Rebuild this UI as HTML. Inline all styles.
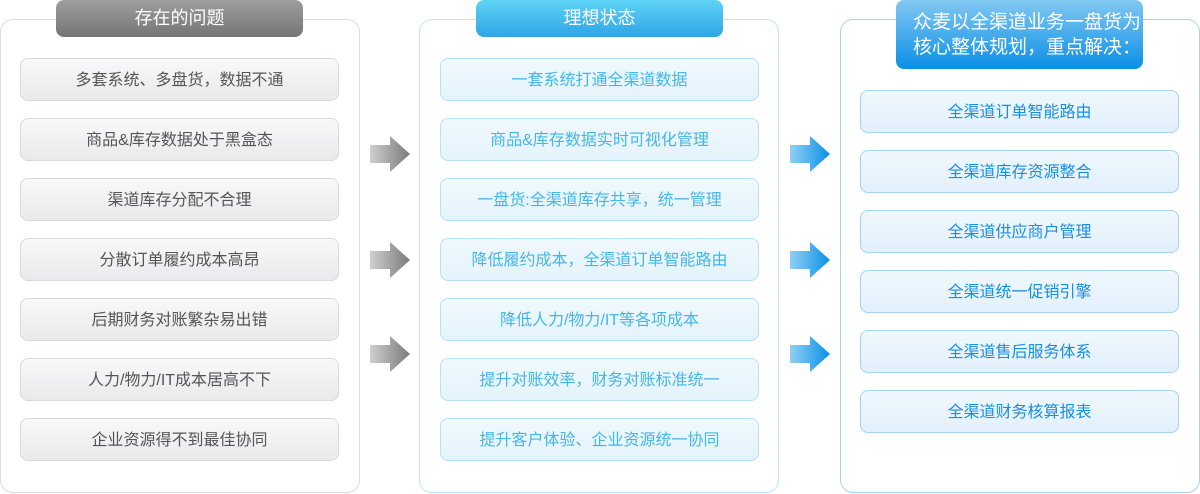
<!DOCTYPE html>
<html><head><meta charset="utf-8"><style>
body{margin:0;width:1200px;height:494px;background:#fff;position:relative;overflow:hidden;font-family:"Liberation Sans","Noto Sans CJK SC",sans-serif}
.p{position:absolute;top:19px;width:360px;height:474px;border-radius:13px;box-sizing:border-box}
.h{position:absolute;top:0;width:247px;height:37px;border-radius:8px;color:#fff;font-size:18px;text-align:center;line-height:37px}
.i{position:absolute;width:319px;height:43px;border-radius:8px;box-sizing:border-box;text-align:center;line-height:44px;font-size:16px}
.g{background:linear-gradient(#f8f9f9,#e8eaeb);border:1px solid #d8dadb;color:#555}
.b{background:linear-gradient(#f0f9fe,#e4f3fc);border:1px solid #b6e2f6;color:#45b6ea}
.c{background:linear-gradient(#f0f8fe,#e2f0fb);border:1px solid #a7d2f0;color:#1a8ee2}
svg{position:absolute}
</style></head><body>
<div class="p" style="left:0;border:1px solid #dcdcdc"></div>
<div class="p" style="left:419px;border:1px solid #bfe6f6"></div>
<div class="p" style="left:840px;border:1px solid #a9d3ef"></div>
<div class="h" style="left:56px;background:linear-gradient(#9e9e9e,#757575)">存在的问题</div>
<div class="h" style="left:476px;background:linear-gradient(#5fd3f5,#2ea5e6)">理想状态</div>
<div class="h" style="left:896px;height:69px;font-size:19px;line-height:25px;padding-top:10px;box-sizing:border-box;text-align:left;padding-left:17px;background:linear-gradient(#82c8f2,#0b8fe6)">众麦以全渠道业务一盘货为<br>核心整体规划，重点解决：</div>

<div class="i g" style="left:20px;top:58px">多套系统、多盘货，数据不通</div>
<div class="i g" style="left:20px;top:118px">商品&amp;库存数据处于黑盒态</div>
<div class="i g" style="left:20px;top:178px">渠道库存分配不合理</div>
<div class="i g" style="left:20px;top:238px">分散订单履约成本高昂</div>
<div class="i g" style="left:20px;top:298px">后期财务对账繁杂易出错</div>
<div class="i g" style="left:20px;top:358px">人力/物力/IT成本居高不下</div>
<div class="i g" style="left:20px;top:418px">企业资源得不到最佳协同</div>

<div class="i b" style="left:440px;top:58px">一套系统打通全渠道数据</div>
<div class="i b" style="left:440px;top:118px">商品&amp;库存数据实时可视化管理</div>
<div class="i b" style="left:440px;top:178px">一盘货:全渠道库存共享，统一管理</div>
<div class="i b" style="left:440px;top:238px">降低履约成本，全渠道订单智能路由</div>
<div class="i b" style="left:440px;top:298px">降低人力/物力/IT等各项成本</div>
<div class="i b" style="left:440px;top:358px">提升对账效率，财务对账标准统一</div>
<div class="i b" style="left:440px;top:418px">提升客户体验、企业资源统一协同</div>

<div class="i c" style="left:860px;top:90px">全渠道订单智能路由</div>
<div class="i c" style="left:860px;top:150px">全渠道库存资源整合</div>
<div class="i c" style="left:860px;top:210px">全渠道供应商户管理</div>
<div class="i c" style="left:860px;top:270px">全渠道统一促销引擎</div>
<div class="i c" style="left:860px;top:330px">全渠道售后服务体系</div>
<div class="i c" style="left:860px;top:390px">全渠道财务核算报表</div>

<svg width="1200" height="494" style="left:0;top:0">
<defs>
<linearGradient id="ga"><stop offset="0" stop-color="#cfcfcf"/><stop offset="1" stop-color="#7a7a7a"/></linearGradient>
<linearGradient id="ba"><stop offset="0" stop-color="#8fd0f4"/><stop offset="1" stop-color="#0a8fe6"/></linearGradient>
<path id="ar" d="M0 -9 H20 V-18 L40 0 L20 18 V9 H0 Z"/>
</defs>
<use href="#ar" x="370" y="154" fill="url(#ga)"/>
<use href="#ar" x="370" y="260" fill="url(#ga)"/>
<use href="#ar" x="370" y="354" fill="url(#ga)"/>
<use href="#ar" x="790" y="154" fill="url(#ba)"/>
<use href="#ar" x="790" y="260" fill="url(#ba)"/>
<use href="#ar" x="790" y="354" fill="url(#ba)"/>
</svg>
</body></html>
